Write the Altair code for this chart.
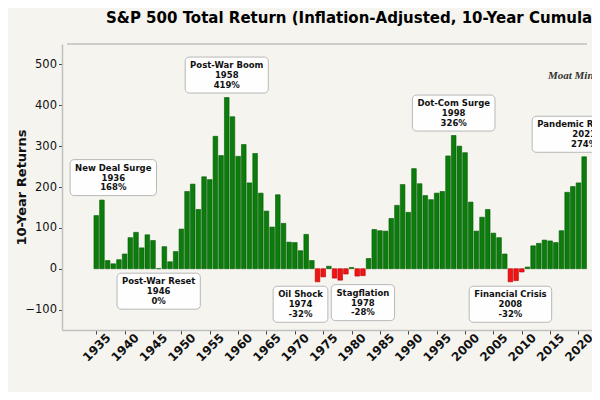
import altair as alt
import pandas as pd

# ---------------- data ----------------
years = list(range(1935, 2022))
returns = [
    130, 168, 20, 12, 22, 36, 76, 89, 51, 83,      # 1935-1944
    69, 0, 54, 17, 42, 97, 189, 207, 145, 225,      # 1945-1954
    218, 324, 277, 419, 372, 275, 304, 210, 282, 185,  # 1955-1964
    141, 102, 181, 111, 65, 64, 44, 84, 20, -32,    # 1965-1974
    -20, 6, -23, -28, -13, 3, -18, -17, 25, 96,     # 1975-1984
    93, 92, 123, 155, 206, 138, 245, 208, 179, 169, # 1985-1994
    185, 189, 276, 326, 300, 284, 163, 92, 126, 145,  # 1995-2004
    87, 76, 36, -32, -29, -8, 4, 56, 62, 70,        # 2005-2014
    68, 64, 93, 187, 201, 210, 274,                 # 2015-2021
]
x_ticks = list(range(1935, 2021, 5))
y_ticks = list(range(-100, 501, 100))

ann_names = ["New Deal Surge", "Post-War Reset", "Post-War Boom", "Oil Shock",
             "Stagflation", "Dot-Com Surge", "Financial Crisis", "Pandemic Recovery"]
ann_years = [1936, 1946, 1958, 1974, 1978, 1998, 2008, 2021]
ann_shift = [2, 0, 0, -3, 4, 0, 0, 0]   # label nudges (years) to avoid overlaps

TITLE = "S&P 500 Total Return (Inflation-Adjusted, 10-Year Cumulative)"
WATERMARK = "Moat Mindset"

# ---------------- layout ----------------
W, H = 530, 286
X_DOM = [1929.84, 2021.5]
Y_DOM = [-150, 550]
units_per_px = (Y_DOM[1] - Y_DOM[0]) / H
px_per_year = W / (X_DOM[1] - X_DOM[0])
ANN_FS = 8.5
LH = 9.8

# DejaVu Sans Bold advance widths (units of 2048) for box sizing
DJB = {" ": 713, "%": 2052, "-": 850, "A": 1591, "B": 1565, "C": 1497, "D": 1704,
       "F": 1399, "N": 1714, "O": 1741, "P": 1505, "R": 1587, "S": 1485, "W": 2025,
       "a": 1386, "c": 1214, "d": 1466, "e": 1389, "f": 891, "g": 1466, "h": 1458,
       "i": 702, "k": 1360, "l": 702, "m": 2134, "n": 1458, "o": 1407, "r": 1011,
       "s": 1219, "t": 979, "u": 1458, "v": 1335, "w": 1888, "y": 1335}


def text_w(s, size):
    return sum(DJB.get(c, 1425) for c in s) / 2048 * size


bars_df = pd.DataFrame({"year": years, "ret": returns})
bars_df["sign"] = ["neg" if v < 0 else "pos" for v in returns]

rows = []
half_h = 18 * units_per_px
for name, yr, sh in zip(ann_names, ann_years, ann_shift):
    v = returns[years.index(yr)]
    c = v + 55 if v > 0 else v - 55
    lines = [name, str(yr), f"{v}%"]
    bw = max(text_w(l, ANN_FS) for l in lines) + 10
    rows.append({"ax": yr + sh, "cy": c, "y1": c - half_h, "y2": c + half_h,
                 "bw": bw, "label": "\n".join(lines)})
ann_df = pd.DataFrame(rows)

xscale = alt.Scale(domain=X_DOM, nice=False, zero=False)
yscale = alt.Scale(domain=Y_DOM, nice=False, zero=False)
SPINE = "#c0c0c0"

# identical axis definitions in every layer so the merged axes keep them
AX = alt.Axis(values=x_ticks, format="d", title=None, labelOverlap=False,
              labelAngle=315, labelAlign="center", labelBaseline="middle",
              labelFont="DejaVu Sans", labelFontWeight="bold", labelFontSize=12,
              labelColor="#111", labelPadding=13, labelFlush=False, labelBound=False,
              tickSize=4, tickColor="#444", grid=False,
              domainColor=SPINE, domainWidth=1.5)
AY = alt.Axis(values=y_ticks, format="d", labelOverlap=False,
              labelExpr="replace(datum.label, '-', '\u2212')",
              labelFont="DejaVu Sans", labelFontSize=11.5, labelColor="#111",
              labelPadding=2, labelFlush=False, labelBound=False,
              tickSize=3.5, tickColor="#444", grid=False,
              domainColor=SPINE, domainWidth=1.5,
              title="10-Year Returns", titleFont="DejaVu Sans", titleFontSize=13,
              titleFontWeight="bold", titleColor="#111",
              titleX=-41, titleY=H / 2, titleAngle=270,
              titleAlign="center", titleBaseline="middle")

bars = alt.Chart(bars_df).mark_bar(width=0.8 * px_per_year, strokeWidth=0.6).encode(
    x=alt.X("year:Q", scale=xscale, axis=AX),
    y=alt.Y("ret:Q", scale=yscale, axis=AY),
    y2=alt.datum(0),
    color=alt.Color("sign:N", scale=alt.Scale(domain=["pos", "neg"],
                                              range=["#0c7c0c", "#f01414"]), legend=None),
    stroke=alt.Stroke("sign:N", scale=alt.Scale(domain=["pos", "neg"],
                                                range=["#035a03", "#b80000"]), legend=None),
)

# top spine of the plot frame
top_spine = alt.Chart(pd.DataFrame({"k": [0]})).mark_rule(
    color=SPINE, strokeWidth=1.5).encode(
    x=alt.X(datum=X_DOM[0], scale=xscale, axis=AX), x2=alt.datum(X_DOM[1]),
    y=alt.Y(datum=Y_DOM[1], scale=yscale, axis=AY))

boxes = alt.Chart(ann_df).mark_bar(fill="white", stroke="#b5b5b5", strokeWidth=1,
                                   cornerRadius=4, opacity=0.95).encode(
    x=alt.X("ax:Q", scale=xscale, axis=AX),
    y=alt.Y("y1:Q", scale=yscale, axis=AY),
    y2="y2:Q",
    size=alt.Size("bw:Q", scale=None, legend=None),
)

texts = alt.Chart(ann_df).mark_text(font="DejaVu Sans", fontWeight="bold",
                                    fontSize=ANN_FS, lineBreak="\n", lineHeight=LH,
                                    align="center", baseline="middle", dy=-LH,
                                    color="#111").encode(
    x=alt.X("ax:Q", scale=xscale, axis=AX),
    y=alt.Y("cy:Q", scale=yscale, axis=AY),
    text="label:N",
)

wm = alt.Chart(pd.DataFrame({"t": [WATERMARK]})).mark_text(
    font="Liberation Serif", fontStyle="italic", fontWeight="bold", fontSize=11,
    align="left", baseline="middle", color="#333").encode(
    x=alt.value(486), y=alt.value(32), text="t:N")

chart = alt.layer(bars, top_spine, boxes, texts, wm).properties(
    width=W, height=H,
    title=alt.TitleParams(text=TITLE, anchor="start", frame="group", dx=44, offset=17.5,
                          font="DejaVu Sans", fontSize=15, fontWeight="bold",
                          color="black"),
    autosize=alt.AutoSizeParams(type="none"),
    padding={"left": 54, "top": 36, "right": 0, "bottom": 62},
).configure(
    background="#f5f4ef"
).configure_view(
    strokeWidth=0
).configure_axis(
    labelOverlap=False
)

chart.save("out.html", embed_options={"renderer": "svg", "actions": False})
